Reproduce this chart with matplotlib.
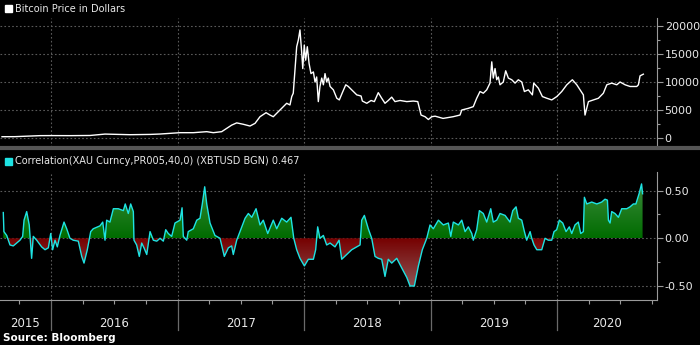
import numpy as np
import matplotlib
matplotlib.use("Agg")
import matplotlib.pyplot as plt
from matplotlib.colors import LinearSegmentedColormap
from matplotlib.lines import Line2D
from matplotlib.patches import Rectangle
from matplotlib.path import Path
import matplotlib.transforms as mtransforms

# --- data (fractional years) ---
price_t = [2015.613, 2015.715, 2015.834, 2015.913, 2016.000, 2016.150, 2016.308, 2016.427,
           2016.506, 2016.625, 2016.783, 2016.862, 2017.020, 2017.125, 2017.231, 2017.283,
           2017.349, 2017.389, 2017.428, 2017.468, 2017.520, 2017.573, 2017.613, 2017.652,
           2017.700, 2017.731, 2017.757, 2017.797, 2017.836, 2017.863, 2017.889, 2017.903,
           2017.915, 2017.921, 2017.942, 2017.955, 2017.968, 2017.982, 2017.990, 2018.002,
           2018.013, 2018.026, 2018.040, 2018.055, 2018.074, 2018.087, 2018.100, 2018.113,
           2018.126, 2018.140, 2018.153, 2018.166, 2018.179, 2018.192, 2018.206, 2018.232,
           2018.259, 2018.279, 2018.303, 2018.330, 2018.350, 2018.377, 2018.417, 2018.451,
           2018.461, 2018.496, 2018.530, 2018.556, 2018.587, 2018.614, 2018.640, 2018.666,
           2018.693, 2018.719, 2018.759, 2018.812, 2018.864, 2018.899, 2018.925, 2018.957,
           2018.983, 2019.009, 2019.036, 2019.099, 2019.178, 2019.233, 2019.247, 2019.299,
           2019.338, 2019.365, 2019.391, 2019.417, 2019.444, 2019.470, 2019.484, 2019.496,
           2019.510, 2019.523, 2019.536, 2019.549, 2019.575, 2019.594, 2019.615, 2019.642,
           2019.668, 2019.694, 2019.721, 2019.742, 2019.773, 2019.805, 2019.816, 2019.852,
           2019.884, 2019.919, 2019.958, 2019.998, 2020.037, 2020.077, 2020.121, 2020.156,
           2020.190, 2020.208, 2020.221, 2020.248, 2020.287, 2020.327, 2020.366, 2020.393,
           2020.432, 2020.472, 2020.498, 2020.538, 2020.577, 2020.630, 2020.643, 2020.656,
           2020.682]
price_usd = [230, 240, 350, 420, 430, 420, 450, 700,
             650, 590, 640, 710, 950, 950, 1130, 950,
             1130, 1730, 2300, 2700, 2450, 2140, 2620, 3800,
             4520, 4100, 3800, 4700, 5600, 6200, 5900, 7400,
             8000, 9800, 16300, 17500, 19300, 15200, 12400, 16600,
             13900, 16300, 13300, 11500, 11800, 10000, 10900, 6500,
             9200, 10700, 9500, 11500, 10000, 10700, 9200, 8600,
             7100, 6800, 8100, 9500, 9200, 8600, 7700, 7500,
             6600, 6200, 6700, 6500, 8100, 7100, 6200, 6700,
             7300, 6500, 6700, 6500, 6600, 6500, 4100, 3800,
             3300, 3800, 3900, 3500, 3800, 4100, 5000, 5300,
             5600, 7100, 8300, 8000, 8600, 9800, 13600, 10700,
             12400, 10400, 10900, 9500, 10000, 12000, 10700, 10400,
             9800, 10400, 10000, 8300, 8600, 7700, 9800, 8900,
             7400, 7100, 6800, 7400, 8300, 9500, 10400, 9500,
             8300, 7700, 4100, 6500, 6800, 7100, 8000, 9500,
             9800, 9500, 10000, 9500, 9200, 9200, 9500, 11100,
             11400]

corr_t = [2015.623, 2015.628, 2015.650, 2015.676, 2015.702, 2015.729, 2015.755, 2015.776,
          2015.787, 2015.808, 2015.828, 2015.840, 2015.847, 2015.860, 2015.887, 2015.926,
          2015.953, 2015.979, 2015.998, 2016.013, 2016.032, 2016.050, 2016.071, 2016.103,
          2016.124, 2016.150, 2016.176, 2016.216, 2016.243, 2016.261, 2016.287, 2016.303,
          2016.314, 2016.334, 2016.387, 2016.409, 2016.427, 2016.440, 2016.466, 2016.493,
          2016.532, 2016.572, 2016.587, 2016.611, 2016.630, 2016.651, 2016.656, 2016.677,
          2016.698, 2016.717, 2016.735, 2016.757, 2016.783, 2016.809, 2016.836, 2016.862,
          2016.888, 2016.907, 2016.927, 2016.954, 2016.980, 2017.020, 2017.036, 2017.046,
          2017.073, 2017.085, 2017.125, 2017.152, 2017.178, 2017.196, 2017.215, 2017.231,
          2017.257, 2017.296, 2017.336, 2017.370, 2017.402, 2017.428, 2017.441, 2017.468,
          2017.494, 2017.534, 2017.560, 2017.587, 2017.621, 2017.652, 2017.678, 2017.713,
          2017.757, 2017.784, 2017.824, 2017.863, 2017.897, 2017.919, 2017.942, 2017.968,
          2018.003, 2018.034, 2018.074, 2018.092, 2018.108, 2018.126, 2018.153, 2018.179,
          2018.206, 2018.245, 2018.277, 2018.298, 2018.337, 2018.377, 2018.417, 2018.443,
          2018.456, 2018.477, 2018.508, 2018.535, 2018.561, 2018.587, 2018.614, 2018.640,
          2018.666, 2018.693, 2018.733, 2018.772, 2018.812, 2018.838, 2018.872, 2018.904,
          2018.935, 2018.970, 2018.996, 2019.022, 2019.062, 2019.101, 2019.141, 2019.160,
          2019.180, 2019.220, 2019.247, 2019.273, 2019.299, 2019.326, 2019.338, 2019.365,
          2019.386, 2019.417, 2019.444, 2019.476, 2019.496, 2019.523, 2019.549, 2019.589,
          2019.628, 2019.650, 2019.676, 2019.694, 2019.721, 2019.742, 2019.760, 2019.787,
          2019.800, 2019.818, 2019.840, 2019.879, 2019.905, 2019.931, 2019.958, 2019.976,
          2019.997, 2020.018, 2020.045, 2020.071, 2020.097, 2020.116, 2020.142, 2020.168,
          2020.187, 2020.208, 2020.216, 2020.235, 2020.274, 2020.314, 2020.353, 2020.379,
          2020.398, 2020.406, 2020.419, 2020.432, 2020.458, 2020.485, 2020.511, 2020.551,
          2020.577, 2020.603, 2020.623, 2020.649, 2020.668, 2020.676]
corr_val = [0.27, 0.07, 0.03, -0.07, -0.08, -0.05, -0.02, 0.02,
            0.19, 0.28, 0.14, -0.09, -0.21, 0.02, -0.02, -0.09,
            -0.12, -0.10, 0.05, -0.12, -0.02, -0.09, 0.03, 0.17,
            0.10, 0.00, -0.02, -0.03, -0.19, -0.26, -0.12, -0.01,
            0.07, 0.10, 0.13, 0.17, -0.02, 0.19, 0.17, 0.31,
            0.31, 0.29, 0.36, 0.26, 0.36, 0.28, -0.02, -0.07,
            -0.19, -0.05, -0.10, -0.17, 0.07, -0.02, -0.03, 0.00,
            -0.03, 0.09, 0.05, 0.02, 0.16, 0.19, 0.32, 0.02,
            -0.02, 0.07, 0.10, 0.19, 0.21, 0.36, 0.54, 0.36,
            0.16, 0.03, 0.00, -0.19, -0.10, -0.08, -0.17, -0.02,
            0.07, 0.21, 0.26, 0.22, 0.31, 0.14, 0.19, 0.05,
            0.19, 0.10, 0.21, 0.17, 0.22, 0.00, -0.12, -0.21,
            -0.29, -0.22, -0.22, -0.12, 0.12, 0.00, 0.03, -0.07,
            -0.05, -0.09, -0.02, -0.22, -0.17, -0.12, -0.09, -0.07,
            0.19, 0.24, 0.10, 0.00, -0.19, -0.21, -0.22, -0.40,
            -0.22, -0.26, -0.21, -0.31, -0.41, -0.50, -0.50, -0.29,
            -0.12, 0.00, 0.14, 0.10, 0.19, 0.14, 0.16, 0.02,
            0.17, 0.14, 0.19, 0.07, 0.12, 0.05, -0.02, 0.09,
            0.29, 0.26, 0.17, 0.31, 0.17, 0.19, 0.26, 0.24,
            0.17, 0.29, 0.33, 0.21, 0.19, 0.07, -0.02, 0.07,
            0.00, -0.07, -0.12, -0.12, 0.00, -0.02, -0.02, 0.07,
            0.09, 0.19, 0.16, 0.07, 0.12, 0.05, 0.14, 0.17,
            0.05, 0.07, 0.43, 0.36, 0.38, 0.36, 0.38, 0.41,
            0.40, 0.19, 0.16, 0.28, 0.26, 0.22, 0.31, 0.31,
            0.33, 0.36, 0.36, 0.47, 0.57, 0.467]

year_starts = [2016, 2017, 2018, 2019, 2020]
year_labels = ["2015", "2016", "2017", "2018", "2019", "2020"]
price_ticks = [0, 5000, 10000, 15000, 20000]
corr_ticks = [-0.5, 0.0, 0.5]
corr_ticklabels = ["-0.50", "0.00", "0.50"]

W, H = 700, 345
XLIM = (2015.597, 2020.790)
BG = "black"
TXT = "#e8e8e8"
GRID = "#5a5a5a"
AXC = "#9a9a9a"

plt.rcParams["font.family"] = ["DejaVu Sans"]
plt.rcParams["axes.unicode_minus"] = False

fig = plt.figure(figsize=(7.0, 3.45), dpi=100, facecolor=BG)


def fy(px):
    return 1 - px / H


ax1 = fig.add_axes([0, fy(147), 657 / W, fy(18) - fy(147)], facecolor=BG)
ax2 = fig.add_axes([0, fy(300), 657 / W, fy(172) - fy(300)], facecolor=BG)

# price panel
ax1.plot(price_t, price_usd, color="white", lw=1.0, zorder=3)
ax1.set_xlim(*XLIM)
ax1.set_ylim(-1607, 21430)
ax1.set_yticks(price_ticks)
ax1.set_yticks([2500, 7500, 12500, 17500], minor=True)
ax1.set_yticklabels([str(v) for v in price_ticks])

# correlation panel with gradient fills
c = np.array(corr_val)
t = np.array(corr_t)


def gradient_fill(ax, where, y0, y1, c0, c1):
    coll = ax.fill_between(t, c, 0, where=where, interpolate=True,
                           facecolor="none", edgecolor="none")
    clip = Path.make_compound_path(*coll.get_paths())
    cmap = LinearSegmentedColormap.from_list("g", [c0, c1])
    grad = np.linspace(0, 1, 256).reshape(-1, 1)
    im = ax.imshow(grad, cmap=cmap, extent=[XLIM[0], XLIM[1], y0, y1],
                   origin="lower", aspect="auto", zorder=1, interpolation="bilinear")
    im.set_clip_path(clip, transform=ax.transData)


gradient_fill(ax2, c >= 0, 0, 0.6, "#006c00", "#3f8c3f")
gradient_fill(ax2, c <= 0, -0.55, 0, "#8f5b5b", "#760000")
ax2.plot(t, c, color="#1ee3e3", lw=1.0, zorder=3)
ax2.set_xlim(*XLIM)
ax2.set_ylim(-0.647, 0.695)
ax2.set_yticks(corr_ticks)
ax2.set_yticks([-0.25, 0.25], minor=True)
ax2.set_yticklabels(corr_ticklabels)

quarters = [q for q in np.arange(2015.75, 2020.76, 0.25) if q % 1 != 0]
ax2.set_xticks(quarters)
ax2.set_xticklabels([])

for ax in (ax1, ax2):
    ax.yaxis.tick_right()
    for s in ("left", "top"):
        ax.spines[s].set_visible(False)
    ax.spines["right"].set_color(AXC)
    ax.tick_params(axis="y", which="major", colors=AXC, labelcolor=TXT,
                   labelsize=8, length=4, width=0.8, pad=1.5)
    ax.tick_params(axis="y", which="minor", colors=AXC, length=2, width=0.8)
    for yv in ax.get_yticks():
        ax.axhline(yv, color=GRID, lw=0.8, ls=(0, (1.5, 2)), zorder=0)
    for xv in year_starts:
        ax.axvline(xv, color=GRID, lw=0.8, ls=(0, (1.5, 2)), zorder=0)

ax1.spines["bottom"].set_visible(False)
ax1.set_xticks([])
ax2.spines["bottom"].set_color(AXC)
ax2.tick_params(axis="x", colors=AXC, length=3, width=0.8)

# year separators below the axis and year labels
trans = mtransforms.blended_transform_factory(ax2.transData, ax2.transAxes)
for xv in year_starts:
    ax2.add_line(Line2D([xv, xv], [0, -0.235], transform=trans, color="#6a6a6a",
                        lw=0.9, clip_on=False))
edges = [XLIM[0]] + year_starts + [XLIM[1]]
for i, lab in enumerate(year_labels):
    xc = (edges[i] + edges[i + 1]) / 2
    ax2.text(xc, -0.18, lab, transform=trans, ha="center", va="center",
             color=TXT, fontsize=8.5)

# separator between panels
fig.add_artist(Line2D([0, 1], [fy(148.5), fy(148.5)], transform=fig.transFigure,
                      color="#555555", lw=3))

# legends
fig.add_artist(Rectangle((5 / W, fy(12)), 7 / W, 7 / H, transform=fig.transFigure,
                         color="white"))
fig.text(15 / W, fy(8.5), "Bitcoin Price in Dollars", color=TXT, fontsize=7,
         va="center", ha="left")
fig.add_artist(Rectangle((5 / W, fy(165)), 7 / W, 7 / H, transform=fig.transFigure,
                         color="#1ee3e3"))
fig.text(15 / W, fy(161.5), "Correlation(XAU Curncy,PR005,40,0) (XBTUSD BGN) 0.467",
         color=TXT, fontsize=7, va="center", ha="left")

fig.text(3 / W, fy(338), "Source: Bloomberg", color="white", fontsize=7.5,
         fontweight="bold", va="center", ha="left")

fig.savefig("out.png", dpi=100, facecolor=BG)
